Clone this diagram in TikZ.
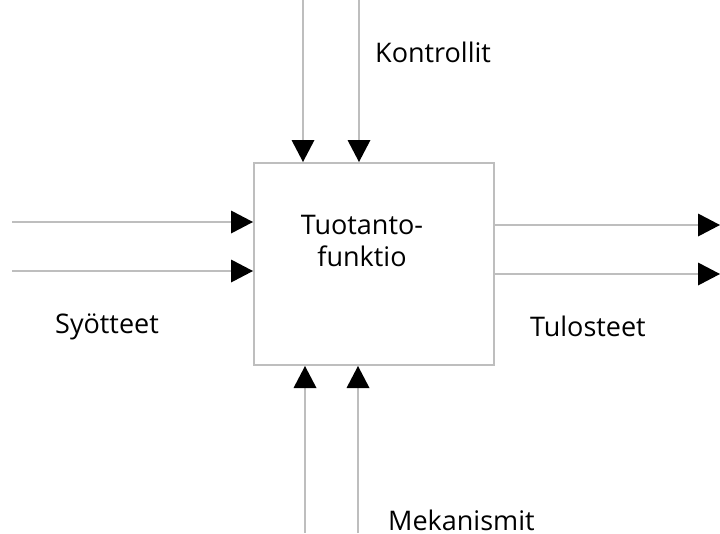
\documentclass[tikz,border=0pt]{standalone}
\usepackage{fontspec}
\setmainfont{Open Sans}
\usetikzlibrary{arrows.meta}
\definecolor{linegray}{RGB}{190,190,190}
\tikzset{
  flow/.style={draw=linegray, line width=2pt,
    -{Triangle[length=22pt,width=23pt,color=black,line width=0pt]}},
  lbl/.style={font=\fontsize{27}{32}\selectfont, inner sep=0pt}
}
\begin{document}
\begin{tikzpicture}[x=1pt,y=-1pt]
  \useasboundingbox (0,0) rectangle (720,533);
  % central function box
  \node[draw=linegray, line width=2pt, minimum width=240pt, minimum height=202pt,
        inner sep=0pt, anchor=north west] (box) at (253,162) {};
  \node[lbl, align=center] (title) at (362,241) {Tuotanto-\\funktio};
  % free ends of the connectors
  \coordinate (c1) at (303,0);  \coordinate (c2) at (359,0);
  \coordinate (i1) at (12,222); \coordinate (i2) at (12,271);
  \coordinate (o1) at (720,225); \coordinate (o2) at (720,274);
  \coordinate (m1) at (305,533); \coordinate (m2) at (358,533);
  % controls
  \draw[flow] (c1) -- (c1 |- box.north);
  \draw[flow] (c2) -- (c2 |- box.north);
  % inputs
  \draw[flow] (i1) -- (i1 -| box.west);
  \draw[flow] (i2) -- (i2 -| box.west);
  % outputs
  \draw[flow] (o1 -| box.east) -- (o1);
  \draw[flow] (o2 -| box.east) -- (o2);
  % mechanisms
  \draw[flow] (m1) -- (m1 |- box.south);
  \draw[flow] (m2) -- (m2 |- box.south);
  % labels
  \node[lbl, anchor=west] (kon) at (375,52) {Kontrollit};
  \node[lbl, anchor=west] (syo) at (55,327) {Syötteet};
  \node[lbl, anchor=west] (tul) at (530,326) {Tulosteet};
  \node[lbl, anchor=west] (mek) at (388,520) {Mekanismit};
\end{tikzpicture}
\end{document}
